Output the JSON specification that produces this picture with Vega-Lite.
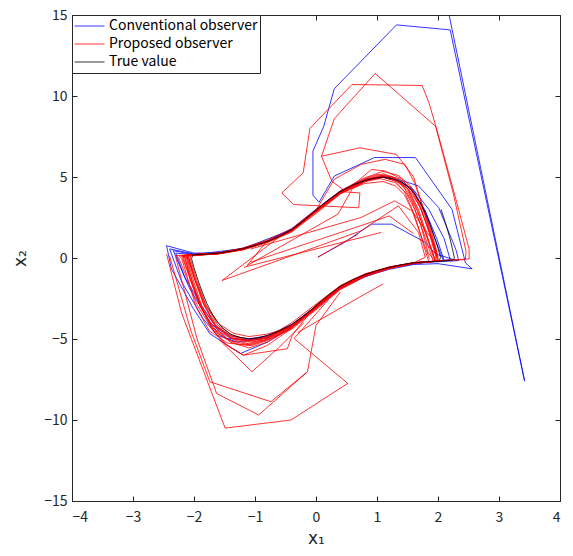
{
"$schema":"https://vega.github.io/schema/vega-lite/v6.json",
"width":488,"height":486,
"autosize":{"type":"none"},
"padding":{"left":72,"top":15,"right":13,"bottom":55},
"config":{"view":{"stroke":"#262626","strokeWidth":1},"font":"Noto Sans CJK JP"},
"datasets":{"d":[
{"s":"T","g":1,"x":2.05,"y":3.0},{"s":"T","g":1,"x":2.12,"y":2.2},{"s":"T","g":1,"x":2.19,"y":1.3},{"s":"T","g":1,"x":2.24,"y":0.5},{"s":"T","g":1,"x":2.27,"y":0.0},{"s":"T","g":1,"x":2.25,"y":-0.12},{"s":"T","g":1,"x":2.15,"y":-0.17},
{"s":"T","g":1,"x":2.02,"y":-0.2},{"s":"T","g":1,"x":1.8,"y":-0.24},{"s":"T","g":1,"x":1.6,"y":-0.3},{"s":"T","g":1,"x":1.4,"y":-0.42},{"s":"T","g":1,"x":1.2,"y":-0.58},{"s":"T","g":1,"x":1.0,"y":-0.78},{"s":"T","g":1,"x":0.8,"y":-1.03},{"s":"T","g":1,"x":0.6,"y":-1.33},{"s":"T","g":1,"x":0.4,"y":-1.75},{"s":"T","g":1,"x":0.2,"y":-2.3},{"s":"T","g":1,"x":0.0,"y":-2.95},{"s":"T","g":1,"x":-0.2,"y":-3.58},{"s":"T","g":1,"x":-0.4,"y":-4.1},{"s":"T","g":1,"x":-0.6,"y":-4.5},{"s":"T","g":1,"x":-0.8,"y":-4.78},{"s":"T","g":1,"x":-0.95,"y":-4.93},{"s":"T","g":1,"x":-1.1,"y":-4.98},{"s":"T","g":1,"x":-1.25,"y":-4.9},{"s":"T","g":1,"x":-1.4,"y":-4.7},{"s":"T","g":1,"x":-1.52,"y":-4.35},{"s":"T","g":1,"x":-1.62,"y":-3.95},{"s":"T","g":1,"x":-1.71,"y":-3.4},{"s":"T","g":1,"x":-1.79,"y":-2.8},{"s":"T","g":1,"x":-1.87,"y":-2.05},{"s":"T","g":1,"x":-1.94,"y":-1.3},{"s":"T","g":1,"x":-2.0,"y":-0.6},{"s":"T","g":1,"x":-2.04,"y":-0.05},
{"s":"T","g":1,"x":-2.02,"y":0.2},{"s":"T","g":1,"x":-1.8,"y":0.24},{"s":"T","g":1,"x":-1.6,"y":0.3},{"s":"T","g":1,"x":-1.4,"y":0.42},{"s":"T","g":1,"x":-1.2,"y":0.58},{"s":"T","g":1,"x":-1.0,"y":0.78},{"s":"T","g":1,"x":-0.8,"y":1.03},{"s":"T","g":1,"x":-0.6,"y":1.33},{"s":"T","g":1,"x":-0.4,"y":1.75},{"s":"T","g":1,"x":-0.2,"y":2.3},{"s":"T","g":1,"x":0.0,"y":2.95},{"s":"T","g":1,"x":0.2,"y":3.58},{"s":"T","g":1,"x":0.4,"y":4.1},{"s":"T","g":1,"x":0.6,"y":4.5},{"s":"T","g":1,"x":0.8,"y":4.78},{"s":"T","g":1,"x":0.95,"y":4.93},{"s":"T","g":1,"x":1.1,"y":4.98},{"s":"T","g":1,"x":1.25,"y":4.9},{"s":"T","g":1,"x":1.4,"y":4.7},{"s":"T","g":1,"x":1.52,"y":4.35},{"s":"T","g":1,"x":1.62,"y":3.95},{"s":"T","g":1,"x":1.71,"y":3.4},{"s":"T","g":1,"x":1.79,"y":2.8},{"s":"T","g":1,"x":1.87,"y":2.05},{"s":"T","g":1,"x":1.94,"y":1.3},{"s":"T","g":1,"x":2.0,"y":0.6},{"s":"T","g":1,"x":2.04,"y":0.05},{"s":"T","g":1,"x":2.02,"y":-0.2},

{"s":"P","g":1,"x":0.4,"y":4.1},{"s":"P","g":1,"x":0.72,"y":4.02},{"s":"P","g":1,"x":0.7,"y":3.1},{"s":"P","g":1,"x":-0.37,"y":3.3},{"s":"P","g":1,"x":-0.56,"y":4.02},{"s":"P","g":1,"x":-0.21,"y":5.26},{"s":"P","g":1,"x":-0.1,"y":8.0},{"s":"P","g":1,"x":0.59,"y":10.71},{"s":"P","g":1,"x":1.74,"y":10.65},{"s":"P","g":1,"x":1.85,"y":9.6},{"s":"P","g":1,"x":1.98,"y":7.93},{"s":"P","g":1,"x":2.28,"y":3.81},{"s":"P","g":1,"x":2.51,"y":0.56},{"s":"P","g":1,"x":2.51,"y":-0.06},{"s":"P","g":1,"x":2.2,"y":-0.12},
{"s":"P","g":1,"x":1.6,"y":-0.32},{"s":"P","g":1,"x":1.2,"y":-0.62},{"s":"P","g":1,"x":0.8,"y":-1.1},{"s":"P","g":1,"x":0.4,"y":-1.85},{"s":"P","g":1,"x":0.0,"y":-3.05},{"s":"P","g":1,"x":-0.4,"y":-4.3},{"s":"P","g":1,"x":-0.8,"y":-5.2},{"s":"P","g":1,"x":-1.1,"y":-5.55},{"s":"P","g":1,"x":-1.4,"y":-5.2},{"s":"P","g":1,"x":-1.7,"y":-4.4},{"s":"P","g":1,"x":-1.95,"y":-2.9},{"s":"P","g":1,"x":-2.12,"y":-1.2},{"s":"P","g":1,"x":-2.25,"y":0.0},
{"s":"P","g":1,"x":-2.3,"y":0.15},{"s":"P","g":1,"x":-1.6,"y":0.28},{"s":"P","g":1,"x":-1.2,"y":0.52},{"s":"P","g":1,"x":-0.8,"y":0.98},{"s":"P","g":1,"x":-0.4,"y":1.65},{"s":"P","g":1,"x":0.0,"y":2.8},{"s":"P","g":1,"x":0.4,"y":4.0},{"s":"P","g":1,"x":0.8,"y":4.85},{"s":"P","g":1,"x":1.1,"y":5.2},{"s":"P","g":1,"x":1.3,"y":4.95},{"s":"P","g":1,"x":1.5,"y":4.3},{"s":"P","g":1,"x":1.66,"y":3.0},{"s":"P","g":1,"x":1.8,"y":1.5},{"s":"P","g":1,"x":1.92,"y":0.1},
{"s":"P","g":1,"x":1.97,"y":-0.2},{"s":"P","g":1,"x":1.6,"y":-0.31},{"s":"P","g":1,"x":1.2,"y":-0.6},{"s":"P","g":1,"x":0.8,"y":-1.08},{"s":"P","g":1,"x":0.4,"y":-1.85},{"s":"P","g":1,"x":0.0,"y":-3.1},{"s":"P","g":1,"x":-0.4,"y":-4.35},{"s":"P","g":1,"x":-0.8,"y":-5.4},{"s":"P","g":1,"x":-1.19,"y":-6.0},{"s":"P","g":1,"x":-1.5,"y":-5.3},{"s":"P","g":1,"x":-1.72,"y":-4.3},{"s":"P","g":1,"x":-1.9,"y":-2.9},{"s":"P","g":1,"x":-2.04,"y":-1.3},{"s":"P","g":1,"x":-2.15,"y":-0.05},
{"s":"P","g":1,"x":-2.18,"y":0.14},{"s":"P","g":1,"x":-1.6,"y":0.26},{"s":"P","g":1,"x":-1.2,"y":0.5},{"s":"P","g":1,"x":-0.8,"y":1.07},{"s":"P","g":1,"x":-1.13,"y":-0.47},{"s":"P","g":1,"x":0.36,"y":2.71},{"s":"P","g":1,"x":0.6,"y":4.3},{"s":"P","g":1,"x":0.9,"y":4.9},{"s":"P","g":1,"x":1.15,"y":5.05},{"s":"P","g":1,"x":1.35,"y":4.8},{"s":"P","g":1,"x":1.52,"y":4.2},{"s":"P","g":1,"x":1.68,"y":3.0},{"s":"P","g":1,"x":1.82,"y":1.4},{"s":"P","g":1,"x":1.94,"y":0.0},
{"s":"P","g":1,"x":1.95,"y":-0.2},{"s":"P","g":1,"x":1.6,"y":-0.28},{"s":"P","g":1,"x":1.2,"y":-0.55},{"s":"P","g":1,"x":0.8,"y":-0.98},{"s":"P","g":1,"x":0.4,"y":-1.7},{"s":"P","g":1,"x":0.0,"y":-2.85},{"s":"P","g":1,"x":-0.4,"y":-4.0},{"s":"P","g":1,"x":-0.8,"y":-4.9},{"s":"P","g":1,"x":-1.1,"y":-5.3},{"s":"P","g":1,"x":-1.35,"y":-5.05},{"s":"P","g":1,"x":-1.62,"y":-4.35},{"s":"P","g":1,"x":-1.88,"y":-3.0},{"s":"P","g":1,"x":-2.05,"y":-1.4},{"s":"P","g":1,"x":-2.18,"y":-0.1},
{"s":"P","g":1,"x":-2.2,"y":0.12},{"s":"P","g":1,"x":-1.6,"y":0.25},{"s":"P","g":1,"x":-1.2,"y":0.5},{"s":"P","g":1,"x":-0.8,"y":0.95},{"s":"P","g":1,"x":-0.4,"y":1.6},{"s":"P","g":1,"x":0.0,"y":2.75},{"s":"P","g":1,"x":0.4,"y":3.95},{"s":"P","g":1,"x":0.8,"y":4.7},{"s":"P","g":1,"x":1.05,"y":5.05},{"s":"P","g":1,"x":1.28,"y":4.8},{"s":"P","g":1,"x":1.45,"y":4.1},{"s":"P","g":1,"x":1.6,"y":2.8},{"s":"P","g":1,"x":1.74,"y":1.2},{"s":"P","g":1,"x":1.86,"y":-0.05},

{"s":"P","g":2,"x":0.45,"y":4.2},{"s":"P","g":2,"x":0.26,"y":4.74},{"s":"P","g":2,"x":0.09,"y":6.28},{"s":"P","g":2,"x":0.3,"y":8.6},{"s":"P","g":2,"x":0.97,"y":11.39},{"s":"P","g":2,"x":1.96,"y":8.13},{"s":"P","g":2,"x":2.25,"y":4.0},{"s":"P","g":2,"x":2.46,"y":0.4},{"s":"P","g":2,"x":2.45,"y":-0.1},{"s":"P","g":2,"x":2.1,"y":-0.15},
{"s":"P","g":2,"x":1.6,"y":-0.34},{"s":"P","g":2,"x":1.2,"y":-0.66},{"s":"P","g":2,"x":0.8,"y":-1.15},{"s":"P","g":2,"x":0.4,"y":-1.95},{"s":"P","g":2,"x":0.0,"y":-3.2},{"s":"P","g":2,"x":-0.4,"y":-4.4},{"s":"P","g":2,"x":-0.8,"y":-5.05},{"s":"P","g":2,"x":-1.1,"y":-5.2},{"s":"P","g":2,"x":-1.38,"y":-4.95},{"s":"P","g":2,"x":-1.65,"y":-4.2},{"s":"P","g":2,"x":-1.85,"y":-2.75},{"s":"P","g":2,"x":-2.0,"y":-1.2},{"s":"P","g":2,"x":-2.1,"y":-0.05},
{"s":"P","g":2,"x":-2.12,"y":0.2},{"s":"P","g":2,"x":-1.6,"y":0.32},{"s":"P","g":2,"x":-1.2,"y":0.62},{"s":"P","g":2,"x":-0.8,"y":1.1},{"s":"P","g":2,"x":-0.4,"y":1.8},{"s":"P","g":2,"x":0.0,"y":3.0},{"s":"P","g":2,"x":0.4,"y":4.15},{"s":"P","g":2,"x":0.8,"y":4.95},{"s":"P","g":2,"x":1.1,"y":5.35},{"s":"P","g":2,"x":1.35,"y":5.1},{"s":"P","g":2,"x":1.55,"y":4.45},{"s":"P","g":2,"x":1.72,"y":3.1},{"s":"P","g":2,"x":1.86,"y":1.5},{"s":"P","g":2,"x":1.97,"y":0.0},
{"s":"P","g":2,"x":1.94,"y":-0.2},{"s":"P","g":2,"x":1.6,"y":-0.29},{"s":"P","g":2,"x":1.2,"y":-0.56},{"s":"P","g":2,"x":0.8,"y":-1.0},{"s":"P","g":2,"x":0.4,"y":-1.72},{"s":"P","g":2,"x":0.0,"y":-2.9},{"s":"P","g":2,"x":-0.39,"y":-4.77},{"s":"P","g":2,"x":-0.47,"y":-5.6},{"s":"P","g":2,"x":-1.19,"y":-6.0},{"s":"P","g":2,"x":-1.45,"y":-5.4},{"s":"P","g":2,"x":-1.68,"y":-4.5},{"s":"P","g":2,"x":-1.86,"y":-3.1},{"s":"P","g":2,"x":-2.0,"y":-1.5},{"s":"P","g":2,"x":-2.1,"y":-0.2},
{"s":"P","g":2,"x":-2.12,"y":0.1},{"s":"P","g":2,"x":-1.6,"y":0.27},{"s":"P","g":2,"x":-1.2,"y":0.55},{"s":"P","g":2,"x":-0.6,"y":1.3},{"s":"P","g":2,"x":-1.54,"y":-1.39},{"s":"P","g":2,"x":0.74,"y":1.68},{"s":"P","g":2,"x":1.35,"y":3.22},{"s":"P","g":2,"x":1.68,"y":1.58},{"s":"P","g":2,"x":1.79,"y":0.05},
{"s":"P","g":2,"x":1.6,"y":-0.3},{"s":"P","g":2,"x":1.2,"y":-0.6},{"s":"P","g":2,"x":0.8,"y":-1.05},{"s":"P","g":2,"x":0.4,"y":-1.8},{"s":"P","g":2,"x":0.0,"y":-3.0},{"s":"P","g":2,"x":-0.4,"y":-4.2},{"s":"P","g":2,"x":-0.8,"y":-4.95},{"s":"P","g":2,"x":-1.1,"y":-5.1},{"s":"P","g":2,"x":-1.37,"y":-4.85},{"s":"P","g":2,"x":-1.63,"y":-4.2},{"s":"P","g":2,"x":-1.83,"y":-2.85},{"s":"P","g":2,"x":-1.98,"y":-1.3},{"s":"P","g":2,"x":-2.08,"y":-0.05},
{"s":"P","g":2,"x":-2.1,"y":0.18},{"s":"P","g":2,"x":-1.6,"y":0.3},{"s":"P","g":2,"x":-1.2,"y":0.56},{"s":"P","g":2,"x":-0.8,"y":1.0},{"s":"P","g":2,"x":-0.4,"y":1.7},{"s":"P","g":2,"x":0.0,"y":2.9},{"s":"P","g":2,"x":0.4,"y":4.05},{"s":"P","g":2,"x":0.8,"y":4.75},{"s":"P","g":2,"x":1.1,"y":5.0},{"s":"P","g":2,"x":1.32,"y":4.75},{"s":"P","g":2,"x":1.5,"y":4.15},{"s":"P","g":2,"x":1.66,"y":2.9},{"s":"P","g":2,"x":1.82,"y":1.3},{"s":"P","g":2,"x":1.95,"y":-0.05},

{"s":"P","g":3,"x":0.09,"y":6.28},{"s":"P","g":3,"x":0.72,"y":6.8},{"s":"P","g":3,"x":1.32,"y":6.39},{"s":"P","g":3,"x":1.6,"y":5.0},{"s":"P","g":3,"x":1.72,"y":3.5},{"s":"P","g":3,"x":1.85,"y":1.8},{"s":"P","g":3,"x":1.98,"y":0.1},
{"s":"P","g":3,"x":1.99,"y":-0.2},{"s":"P","g":3,"x":1.6,"y":-0.3},{"s":"P","g":3,"x":1.2,"y":-0.59},{"s":"P","g":3,"x":0.8,"y":-1.04},{"s":"P","g":3,"x":0.4,"y":-1.78},{"s":"P","g":3,"x":0.0,"y":-2.98},{"s":"P","g":3,"x":-0.4,"y":-4.15},{"s":"P","g":3,"x":-0.8,"y":-4.85},{"s":"P","g":3,"x":-1.1,"y":-5.02},{"s":"P","g":3,"x":-1.36,"y":-4.8},{"s":"P","g":3,"x":-1.61,"y":-4.15},{"s":"P","g":3,"x":-1.81,"y":-2.85},{"s":"P","g":3,"x":-1.96,"y":-1.3},{"s":"P","g":3,"x":-2.06,"y":-0.05},
{"s":"P","g":3,"x":-2.06,"y":0.19},{"s":"P","g":3,"x":-1.6,"y":0.29},{"s":"P","g":3,"x":-1.2,"y":0.57},{"s":"P","g":3,"x":-0.8,"y":1.02},{"s":"P","g":3,"x":-0.4,"y":1.72},{"s":"P","g":3,"x":0.0,"y":2.92},{"s":"P","g":3,"x":0.4,"y":4.08},{"s":"P","g":3,"x":0.8,"y":4.78},{"s":"P","g":3,"x":1.1,"y":4.98},{"s":"P","g":3,"x":1.33,"y":4.72},{"s":"P","g":3,"x":1.52,"y":4.25},{"s":"P","g":3,"x":1.7,"y":3.2},{"s":"P","g":3,"x":1.85,"y":1.7},{"s":"P","g":3,"x":1.98,"y":0.1},
{"s":"P","g":3,"x":2.02,"y":-0.19},{"s":"P","g":3,"x":1.6,"y":-0.33},{"s":"P","g":3,"x":1.2,"y":-0.63},{"s":"P","g":3,"x":0.8,"y":-1.12},{"s":"P","g":3,"x":0.4,"y":-1.9},{"s":"P","g":3,"x":0.0,"y":-3.15},{"s":"P","g":3,"x":-0.4,"y":-4.25},{"s":"P","g":3,"x":-0.8,"y":-4.7},{"s":"P","g":3,"x":-1.1,"y":-4.85},{"s":"P","g":3,"x":-1.35,"y":-4.65},{"s":"P","g":3,"x":-1.58,"y":-4.1},{"s":"P","g":3,"x":-1.8,"y":-2.95},{"s":"P","g":3,"x":-1.97,"y":-1.4},{"s":"P","g":3,"x":-2.08,"y":-0.1},
{"s":"P","g":3,"x":-2.1,"y":0.16},{"s":"P","g":3,"x":-1.6,"y":0.28},{"s":"P","g":3,"x":-1.2,"y":0.54},{"s":"P","g":3,"x":-0.8,"y":1.0},{"s":"P","g":3,"x":-0.4,"y":1.68},{"s":"P","g":3,"x":0.0,"y":2.88},{"s":"P","g":3,"x":0.4,"y":4.0},{"s":"P","g":3,"x":0.69,"y":4.76},{"s":"P","g":3,"x":0.91,"y":5.47},{"s":"P","g":3,"x":1.13,"y":5.37},{"s":"P","g":3,"x":1.4,"y":4.9},{"s":"P","g":3,"x":1.56,"y":4.2},{"s":"P","g":3,"x":1.72,"y":3.0},{"s":"P","g":3,"x":1.87,"y":1.5},{"s":"P","g":3,"x":1.99,"y":0.0},
{"s":"P","g":3,"x":1.98,"y":-0.21},{"s":"P","g":3,"x":1.6,"y":-0.31},{"s":"P","g":3,"x":1.2,"y":-0.61},{"s":"P","g":3,"x":0.8,"y":-1.06},{"s":"P","g":3,"x":0.4,"y":-1.82},{"s":"P","g":3,"x":0.0,"y":-3.05},{"s":"P","g":3,"x":-0.4,"y":-4.22},{"s":"P","g":3,"x":-0.8,"y":-4.9},{"s":"P","g":3,"x":-1.1,"y":-5.15},{"s":"P","g":3,"x":-1.38,"y":-4.92},{"s":"P","g":3,"x":-1.64,"y":-4.25},{"s":"P","g":3,"x":-1.84,"y":-2.9},{"s":"P","g":3,"x":-1.99,"y":-1.3},{"s":"P","g":3,"x":-2.09,"y":-0.05},
{"s":"P","g":3,"x":-2.2,"y":0.15},{"s":"P","g":3,"x":-1.6,"y":0.28},{"s":"P","g":3,"x":-1.2,"y":0.55},{"s":"P","g":3,"x":-0.8,"y":1.0},{"s":"P","g":3,"x":-0.4,"y":1.7},{"s":"P","g":3,"x":0.0,"y":2.95},{"s":"P","g":3,"x":0.3,"y":4.86},{"s":"P","g":3,"x":0.74,"y":5.78},{"s":"P","g":3,"x":1.13,"y":6.09},{"s":"P","g":3,"x":1.46,"y":5.78},{"s":"P","g":3,"x":1.62,"y":4.6},{"s":"P","g":3,"x":1.75,"y":3.2},{"s":"P","g":3,"x":1.88,"y":1.6},{"s":"P","g":3,"x":2.0,"y":0.0},

{"s":"P","g":13,"x":1.93,"y":-0.2},{"s":"P","g":13,"x":1.6,"y":-0.3},{"s":"P","g":13,"x":1.2,"y":-0.57},{"s":"P","g":13,"x":0.8,"y":-1.02},{"s":"P","g":13,"x":0.4,"y":-1.76},{"s":"P","g":13,"x":0.0,"y":-2.97},{"s":"P","g":13,"x":-0.4,"y":-4.25},{"s":"P","g":13,"x":-0.8,"y":-5.0},{"s":"P","g":13,"x":-1.1,"y":-5.35},{"s":"P","g":13,"x":-1.42,"y":-5.1},{"s":"P","g":13,"x":-1.7,"y":-4.3},{"s":"P","g":13,"x":-1.92,"y":-2.8},{"s":"P","g":13,"x":-2.07,"y":-1.2},{"s":"P","g":13,"x":-2.17,"y":-0.05},
{"s":"P","g":13,"x":-2.17,"y":0.17},{"s":"P","g":13,"x":-1.6,"y":0.3},{"s":"P","g":13,"x":-1.2,"y":0.56},{"s":"P","g":13,"x":-0.8,"y":1.01},{"s":"P","g":13,"x":-0.4,"y":1.71},{"s":"P","g":13,"x":0.0,"y":2.92},{"s":"P","g":13,"x":0.4,"y":4.0},{"s":"P","g":13,"x":0.8,"y":4.6},{"s":"P","g":13,"x":1.1,"y":4.72},{"s":"P","g":13,"x":1.3,"y":4.45},{"s":"P","g":13,"x":1.45,"y":3.9},{"s":"P","g":13,"x":1.58,"y":2.9},{"s":"P","g":13,"x":1.7,"y":1.6},{"s":"P","g":13,"x":1.82,"y":0.1},
{"s":"P","g":13,"x":1.85,"y":-0.2},{"s":"P","g":13,"x":1.6,"y":-0.29},{"s":"P","g":13,"x":1.2,"y":-0.57},{"s":"P","g":13,"x":0.8,"y":-1.03},{"s":"P","g":13,"x":0.4,"y":-1.8},{"s":"P","g":13,"x":0.0,"y":-3.0},{"s":"P","g":13,"x":-0.4,"y":-4.3},{"s":"P","g":13,"x":-0.8,"y":-5.1},{"s":"P","g":13,"x":-1.05,"y":-5.4},{"s":"P","g":13,"x":-1.3,"y":-5.3},{"s":"P","g":13,"x":-1.6,"y":-4.7},{"s":"P","g":13,"x":-1.85,"y":-3.3},{"s":"P","g":13,"x":-2.02,"y":-1.6},{"s":"P","g":13,"x":-2.12,"y":-0.1},
{"s":"P","g":13,"x":-2.14,"y":0.16},{"s":"P","g":13,"x":-1.6,"y":0.28},{"s":"P","g":13,"x":-1.2,"y":0.54},{"s":"P","g":13,"x":-0.8,"y":1.0},{"s":"P","g":13,"x":-0.4,"y":1.7},{"s":"P","g":13,"x":0.0,"y":2.93},{"s":"P","g":13,"x":0.4,"y":4.1},{"s":"P","g":13,"x":0.8,"y":4.9},{"s":"P","g":13,"x":1.0,"y":5.15},{"s":"P","g":13,"x":1.25,"y":5.0},{"s":"P","g":13,"x":1.42,"y":4.5},{"s":"P","g":13,"x":1.57,"y":3.5},{"s":"P","g":13,"x":1.72,"y":2.0},{"s":"P","g":13,"x":1.84,"y":0.3},
{"s":"P","g":13,"x":1.96,"y":-0.2},{"s":"P","g":13,"x":1.6,"y":-0.3},{"s":"P","g":13,"x":1.2,"y":-0.58},{"s":"P","g":13,"x":0.8,"y":-1.04},{"s":"P","g":13,"x":0.4,"y":-1.79},{"s":"P","g":13,"x":0.0,"y":-3.02},{"s":"P","g":13,"x":-0.4,"y":-4.18},{"s":"P","g":13,"x":-0.8,"y":-4.9},{"s":"P","g":13,"x":-1.1,"y":-5.1},{"s":"P","g":13,"x":-1.4,"y":-4.95},{"s":"P","g":13,"x":-1.68,"y":-4.35},{"s":"P","g":13,"x":-1.9,"y":-3.0},{"s":"P","g":13,"x":-2.06,"y":-1.35},{"s":"P","g":13,"x":-2.14,"y":-0.05},
{"s":"P","g":13,"x":-2.16,"y":0.14},{"s":"P","g":13,"x":-1.6,"y":0.27},{"s":"P","g":13,"x":-1.2,"y":0.55},{"s":"P","g":13,"x":-0.8,"y":0.99},{"s":"P","g":13,"x":-0.4,"y":1.68},{"s":"P","g":13,"x":0.0,"y":2.9},{"s":"P","g":13,"x":0.4,"y":4.03},{"s":"P","g":13,"x":0.8,"y":4.72},{"s":"P","g":13,"x":1.05,"y":4.9},{"s":"P","g":13,"x":1.3,"y":4.65},{"s":"P","g":13,"x":1.48,"y":4.0},{"s":"P","g":13,"x":1.62,"y":3.0},{"s":"P","g":13,"x":1.76,"y":1.6},{"s":"P","g":13,"x":1.9,"y":0.05},
{"s":"P","g":13,"x":1.92,"y":-0.2},{"s":"P","g":13,"x":1.6,"y":-0.3},{"s":"P","g":13,"x":1.2,"y":-0.6},{"s":"P","g":13,"x":0.8,"y":-1.06},{"s":"P","g":13,"x":0.4,"y":-1.83},{"s":"P","g":13,"x":0.0,"y":-3.08},{"s":"P","g":13,"x":-0.4,"y":-4.28},{"s":"P","g":13,"x":-0.8,"y":-5.05},{"s":"P","g":13,"x":-1.1,"y":-5.4},{"s":"P","g":13,"x":-1.45,"y":-5.25},{"s":"P","g":13,"x":-1.75,"y":-4.5},{"s":"P","g":13,"x":-1.97,"y":-3.0},{"s":"P","g":13,"x":-2.1,"y":-1.3},{"s":"P","g":13,"x":-2.2,"y":-0.05},
{"s":"P","g":13,"x":-2.24,"y":0.13},{"s":"P","g":13,"x":-1.6,"y":0.26},{"s":"P","g":13,"x":-1.2,"y":0.52},{"s":"P","g":13,"x":-0.8,"y":0.97},{"s":"P","g":13,"x":-0.4,"y":1.66},{"s":"P","g":13,"x":0.0,"y":2.85},{"s":"P","g":13,"x":0.4,"y":3.98},{"s":"P","g":13,"x":0.8,"y":4.82},{"s":"P","g":13,"x":1.1,"y":5.12},{"s":"P","g":13,"x":1.36,"y":4.9},{"s":"P","g":13,"x":1.56,"y":4.3},{"s":"P","g":13,"x":1.73,"y":3.2},{"s":"P","g":13,"x":1.88,"y":1.8},{"s":"P","g":13,"x":2.0,"y":0.1},

{"s":"P","g":4,"x":-1.07,"y":0.56},{"s":"P","g":4,"x":0.74,"y":2.5},{"s":"P","g":4,"x":1.29,"y":3.53},{"s":"P","g":4,"x":1.57,"y":2.91},{"s":"P","g":4,"x":1.9,"y":1.17},{"s":"P","g":4,"x":1.98,"y":0.35},
{"s":"P","g":5,"x":-1.07,"y":-0.26},{"s":"P","g":5,"x":0.74,"y":2.0},{"s":"P","g":5,"x":1.2,"y":2.6},{"s":"P","g":5,"x":1.6,"y":1.5},
{"s":"P","g":6,"x":-1.18,"y":-0.57},{"s":"P","g":6,"x":1.07,"y":1.58},
{"s":"P","g":7,"x":0.03,"y":0.05},{"s":"P","g":7,"x":0.69,"y":1.48},
{"s":"P","g":8,"x":-2.45,"y":0.25},{"s":"P","g":8,"x":-2.2,"y":-3.44},{"s":"P","g":8,"x":-1.49,"y":-10.5},{"s":"P","g":8,"x":-0.41,"y":-10.0},{"s":"P","g":8,"x":0.52,"y":-7.74},{"s":"P","g":8,"x":-0.36,"y":-4.97},{"s":"P","g":8,"x":0.2,"y":-2.6},
{"s":"P","g":9,"x":-2.4,"y":0.12},{"s":"P","g":9,"x":-2.05,"y":-4.5},{"s":"P","g":9,"x":-1.74,"y":-7.64},{"s":"P","g":9,"x":-0.74,"y":-8.87},{"s":"P","g":9,"x":-0.14,"y":-7.02},{"s":"P","g":9,"x":0.0,"y":-4.16},{"s":"P","g":9,"x":0.4,"y":-2.1},
{"s":"P","g":10,"x":-2.3,"y":0.05},{"s":"P","g":10,"x":-1.95,"y":-5.0},{"s":"P","g":10,"x":-1.63,"y":-8.36},{"s":"P","g":10,"x":-0.94,"y":-9.69},{"s":"P","g":10,"x":-0.14,"y":-7.02},
{"s":"P","g":11,"x":-1.6,"y":-5.0},{"s":"P","g":11,"x":-1.05,"y":-7.02},{"s":"P","g":11,"x":-0.6,"y":-5.5},{"s":"P","g":11,"x":-0.2,"y":-4.0},
{"s":"P","g":12,"x":-0.3,"y":-4.6},{"s":"P","g":12,"x":0.72,"y":-2.4},{"s":"P","g":12,"x":1.1,"y":-1.6},

{"s":"C","g":1,"x":2.1,"y":16.5},{"s":"C","g":1,"x":3.42,"y":-7.6},{"s":"C","g":1,"x":2.2,"y":14.08},{"s":"C","g":1,"x":1.32,"y":14.39},{"s":"C","g":1,"x":0.3,"y":10.45},{"s":"C","g":1,"x":0.127,"y":8.13},{"s":"C","g":1,"x":-0.05,"y":6.6},{"s":"C","g":1,"x":-0.05,"y":3.88},{"s":"C","g":1,"x":0.05,"y":3.44},{"s":"C","g":1,"x":0.3,"y":5.06},{"s":"C","g":1,"x":0.96,"y":6.2},{"s":"C","g":1,"x":1.63,"y":6.2},{"s":"C","g":1,"x":2.23,"y":3.0},{"s":"C","g":1,"x":2.45,"y":-0.3},{"s":"C","g":1,"x":2.56,"y":-0.67},
{"s":"C","g":1,"x":2.0,"y":-0.35},{"s":"C","g":1,"x":1.6,"y":-0.4},{"s":"C","g":1,"x":1.2,"y":-0.7},{"s":"C","g":1,"x":0.8,"y":-1.15},{"s":"C","g":1,"x":0.4,"y":-1.9},{"s":"C","g":1,"x":0.0,"y":-3.1},{"s":"C","g":1,"x":-0.4,"y":-4.3},{"s":"C","g":1,"x":-0.8,"y":-5.2},{"s":"C","g":1,"x":-1.24,"y":-5.9},{"s":"C","g":1,"x":-1.74,"y":-4.67},{"s":"C","g":1,"x":-2.01,"y":-3.13},{"s":"C","g":1,"x":-2.37,"y":-0.67},{"s":"C","g":1,"x":-2.45,"y":0.76},
{"s":"C","g":1,"x":-2.0,"y":0.3},{"s":"C","g":1,"x":-1.6,"y":0.32},{"s":"C","g":1,"x":-1.2,"y":0.6},{"s":"C","g":1,"x":-0.8,"y":1.05},{"s":"C","g":1,"x":-0.4,"y":1.8},{"s":"C","g":1,"x":0.0,"y":3.0},{"s":"C","g":1,"x":0.4,"y":4.15},{"s":"C","g":1,"x":0.8,"y":4.85},{"s":"C","g":1,"x":1.1,"y":5.05},{"s":"C","g":1,"x":1.35,"y":4.85},{"s":"C","g":1,"x":1.68,"y":4.45},{"s":"C","g":1,"x":2.01,"y":3.12},{"s":"C","g":1,"x":2.29,"y":0.56},{"s":"C","g":1,"x":2.34,"y":-0.16},
{"s":"C","g":1,"x":1.9,"y":-0.25},{"s":"C","g":1,"x":1.6,"y":-0.33},{"s":"C","g":1,"x":1.2,"y":-0.62},{"s":"C","g":1,"x":0.8,"y":-1.08},{"s":"C","g":1,"x":0.4,"y":-1.82},{"s":"C","g":1,"x":0.0,"y":-3.02},{"s":"C","g":1,"x":-0.4,"y":-4.2},{"s":"C","g":1,"x":-0.8,"y":-4.95},{"s":"C","g":1,"x":-1.3,"y":-5.18},{"s":"C","g":1,"x":-1.62,"y":-4.77},{"s":"C","g":1,"x":-1.85,"y":-3.75},{"s":"C","g":1,"x":-2.2,"y":-1.49},{"s":"C","g":1,"x":-2.4,"y":0.56},
{"s":"C","g":1,"x":-2.0,"y":0.25},{"s":"C","g":1,"x":-1.6,"y":0.3},{"s":"C","g":1,"x":-1.2,"y":0.58},{"s":"C","g":1,"x":-0.8,"y":1.03},{"s":"C","g":1,"x":-0.4,"y":1.76},{"s":"C","g":1,"x":0.0,"y":2.97},{"s":"C","g":1,"x":0.4,"y":4.12},{"s":"C","g":1,"x":0.8,"y":4.8},{"s":"C","g":1,"x":1.1,"y":5.0},{"s":"C","g":1,"x":1.35,"y":4.78},{"s":"C","g":1,"x":1.58,"y":4.3},{"s":"C","g":1,"x":1.85,"y":3.0},{"s":"C","g":1,"x":2.1,"y":1.2},{"s":"C","g":1,"x":2.2,"y":-0.1},
{"s":"C","g":1,"x":1.9,"y":-0.22},{"s":"C","g":1,"x":1.6,"y":-0.31},{"s":"C","g":1,"x":1.2,"y":-0.6},{"s":"C","g":1,"x":0.8,"y":-1.05},{"s":"C","g":1,"x":0.4,"y":-1.78},{"s":"C","g":1,"x":0.0,"y":-2.98},{"s":"C","g":1,"x":-0.4,"y":-4.15},{"s":"C","g":1,"x":-0.8,"y":-4.85},{"s":"C","g":1,"x":-1.1,"y":-5.05},{"s":"C","g":1,"x":-1.46,"y":-4.97},{"s":"C","g":1,"x":-1.74,"y":-3.95},{"s":"C","g":1,"x":-2.07,"y":-1.9},{"s":"C","g":1,"x":-2.34,"y":0.45},
{"s":"C","g":1,"x":-2.0,"y":0.22},{"s":"C","g":1,"x":-1.6,"y":0.3},{"s":"C","g":1,"x":-1.2,"y":0.58},{"s":"C","g":1,"x":-0.8,"y":1.03},{"s":"C","g":1,"x":-0.4,"y":1.75},{"s":"C","g":1,"x":0.0,"y":2.95},{"s":"C","g":1,"x":0.4,"y":4.1},{"s":"C","g":1,"x":0.8,"y":4.8},{"s":"C","g":1,"x":1.1,"y":5.0},{"s":"C","g":1,"x":1.35,"y":4.75},{"s":"C","g":1,"x":1.55,"y":4.3},{"s":"C","g":1,"x":1.78,"y":3.0},{"s":"C","g":1,"x":1.98,"y":1.2},{"s":"C","g":1,"x":2.1,"y":-0.15},
{"s":"C","g":1,"x":1.9,"y":-0.21},{"s":"C","g":1,"x":1.2,"y":-0.59},{"s":"C","g":1,"x":0.4,"y":-1.76},{"s":"C","g":1,"x":0.0,"y":-2.96},{"s":"C","g":1,"x":-0.4,"y":-4.12},{"s":"C","g":1,"x":-0.8,"y":-4.8},{"s":"C","g":1,"x":-1.1,"y":-5.0},{"s":"C","g":1,"x":-1.4,"y":-4.8},{"s":"C","g":1,"x":-1.65,"y":-4.2},{"s":"C","g":1,"x":-1.9,"y":-2.8},{"s":"C","g":1,"x":-2.15,"y":-1.2},{"s":"C","g":1,"x":-2.3,"y":0.3},
{"s":"C","g":1,"x":-2.0,"y":0.21},{"s":"C","g":1,"x":-1.2,"y":0.58},{"s":"C","g":1,"x":-0.4,"y":1.75},{"s":"C","g":1,"x":0.0,"y":2.95},{"s":"C","g":1,"x":0.4,"y":4.1},{"s":"C","g":1,"x":0.8,"y":4.78},{"s":"C","g":1,"x":1.1,"y":4.98},{"s":"C","g":1,"x":1.4,"y":4.7},{"s":"C","g":1,"x":1.6,"y":4.15},{"s":"C","g":1,"x":1.8,"y":2.8},{"s":"C","g":1,"x":1.96,"y":1.1},{"s":"C","g":1,"x":2.08,"y":-0.1},
{"s":"C","g":2,"x":0.03,"y":0.05},{"s":"C","g":2,"x":0.47,"y":0.97},{"s":"C","g":2,"x":0.91,"y":2.09},{"s":"C","g":2,"x":1.24,"y":2.09},{"s":"C","g":2,"x":1.79,"y":0.97},{"s":"C","g":2,"x":1.96,"y":0.25},{"s":"C","g":2,"x":2.31,"y":-0.16}
]},
"data":{"name":"d"},
"resolve":{"axis":{"x":"independent","y":"independent"}},
"layer":[
{"transform":[{"filter":"datum.s=='C'"}],
 "mark":{"type":"line","clip":true},
 "encoding":{
  "x":{"field":"x","type":"quantitative","scale":{"domain":[-4,4],"nice":false,"zero":false},
   "axis":{"values":[-4,-3,-2,-1,0,1,2,3,4],"grid":false,"domain":false,"tickSize":-5,"tickColor":"#262626","labelPadding":14,"labelFontSize":14,"labelColor":"#262626","labelFont":"Noto Sans CJK JP","title":"x₁","titleFontSize":17,"titleFontWeight":"normal","titleColor":"#262626","titleFont":"DejaVu Sans","titlePadding":6}},
  "y":{"field":"y","type":"quantitative","scale":{"domain":[-15,15],"nice":false,"zero":false},
   "axis":{"values":[-15,-10,-5,0,5,10,15],"grid":false,"domain":false,"tickSize":-5,"tickColor":"#262626","labelPadding":10,"labelFontSize":14,"labelColor":"#262626","labelFont":"Noto Sans CJK JP","title":"x₂","titleFontSize":17,"titleFontWeight":"normal","titleColor":"#262626","titleFont":"DejaVu Sans","titlePadding":14}},
  "color":{"field":"s","type":"nominal","scale":{"domain":["C","P","T"],"range":["#0000ff","#ff0000","#000000"]},
   "legend":{"title":null,"orient":"top-left","offset":0,"padding":2,"rowPadding":0,"clipHeight":18,"fillColor":"white","strokeColor":"#262626","labelFontSize":14,"labelFont":"Noto Sans CJK JP","labelColor":"#000000","symbolType":"stroke","symbolSize":900,"labelOffset":4,
    "symbolStrokeWidth":{"expr":"datum.value=='T'?2:1"},
    "labelExpr":"datum.label=='C'?'Conventional observer':datum.label=='P'?'Proposed observer':'True value'"}},
  "strokeWidth":{"field":"s","type":"nominal","scale":{"domain":["C","P","T"],"range":[0.8,0.8,2]}},
  "detail":{"field":"g"},
  "order":{"value":null}}},
{"transform":[{"filter":"datum.s=='P'"}],
 "mark":{"type":"line","clip":true},
 "encoding":{
  "x":{"field":"x","type":"quantitative","scale":{"domain":[-4,4],"nice":false,"zero":false},
   "axis":{"orient":"top","values":[-4,-3,-2,-1,0,1,2,3,4],"grid":false,"domain":false,"labels":false,"tickSize":-5,"tickColor":"#262626","title":null}},
  "y":{"field":"y","type":"quantitative","scale":{"domain":[-15,15],"nice":false,"zero":false},
   "axis":{"orient":"right","values":[-15,-10,-5,0,5,10,15],"grid":false,"domain":false,"labels":false,"tickSize":-5,"tickColor":"#262626","title":null}},
  "color":{"field":"s","type":"nominal"},
  "strokeWidth":{"field":"s","type":"nominal"},
  "detail":{"field":"g"},
  "order":{"value":null}}},
{"transform":[{"filter":"datum.s=='T'"}],
 "mark":{"type":"line","clip":true},
 "encoding":{
  "x":{"field":"x","type":"quantitative","axis":null},
  "y":{"field":"y","type":"quantitative","axis":null},
  "color":{"field":"s","type":"nominal"},
  "strokeWidth":{"field":"s","type":"nominal"},
  "detail":{"field":"g"},
  "order":{"value":null}}}
]
}
